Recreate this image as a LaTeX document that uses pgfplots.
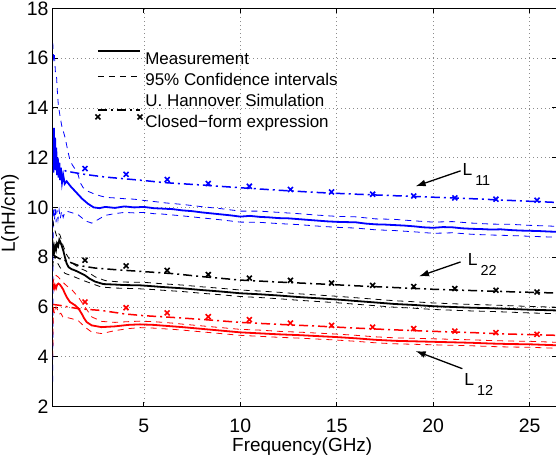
\documentclass[border=0pt]{standalone}
\usepackage{pgfplots}
\pgfplotsset{compat=1.18}
\usepackage{fontspec}
\setmainfont{Liberation Sans}
\usetikzlibrary{arrows.meta}
\definecolor{mblue}{RGB}{0,0,255}
\definecolor{mred}{RGB}{255,0,0}
\tikzset{
  meas/.style={line width=1.8bp},
  ci/.style={line width=0.8bp, dash pattern=on 6bp off 5bp},
  sim/.style={line width=1.5bp, dash pattern=on 9bp off 4bp on 2bp off 4bp},
  cf/.style={only marks, mark=x, mark size=3.5bp, mark options={line width=1.6bp, solid}},
}
\pgfplotsset{
  lineleg/.style={legend image code/.code={\draw[##1, overlay] (0bp,#1) -- (42bp,#1); \path (0bp,0bp) (46.5bp,0bp);}},
  markleg/.style={legend image code/.code={\draw[##1, overlay] plot coordinates {(0bp,#1) (42bp,#1)}; \path (0bp,0bp) (46.5bp,0bp);}},
}
\begin{document}
\begin{tikzpicture}
\useasboundingbox (-52.7bp,-60bp) rectangle (502.6bp,406bp);
\begin{axis}[
  at={(0,0)}, anchor=south west,
  scale only axis, width=503.3bp, height=397.7bp,
  xmin=0.28, xmax=26.4, ymin=2, ymax=18,
  xtick={5,10,15,20,25}, ytick={2,4,...,18},
  tick align=inside, tick pos=both,
  major tick length=5bp,
  axis line style={line width=0.9bp},
  every tick/.style={black, line width=0.8bp},
  grid=major,
  major grid style={line width=0.6bp, color=black!45, dash pattern=on 1bp off 3bp},
  /pgf/number format/assume math mode=true,
  tick label style={font=\fontsize{19.5}{19.5}\selectfont},
  xticklabel style={anchor=base, inner sep=0pt, yshift=-25.7bp},
  yticklabel style={anchor=east, inner sep=0pt, xshift=-4bp},
  xlabel={Frequency(GHz)},
  ylabel={L(nH/cm)},
  label style={font=\fontsize{19}{19}\selectfont},
  xlabel style={at={(axis description cs:0.495,-0.1124)}, anchor=base, inner sep=0pt},
  ylabel style={at={(axis description cs:-0.0848,0.4845)}, anchor=center, inner sep=0pt},
  legend style={draw=none, fill=none, at={(rel axis cs:0.0874,0.8884)}, anchor=north west,
    inner sep=0pt, row sep=4.9bp, font=\fontsize{17}{17}\selectfont,
    nodes={inner sep=0bp, text height=12bp, text depth=4bp}},
  legend cell align=left,
]
\addlegendimage{black, meas, lineleg=10.2bp}
\addlegendentry{Measurement}
\addlegendimage{black, ci, lineleg=5.8bp}
\addlegendentry{95\% Confidence intervals}
\addlegendimage{black, sim, lineleg=-7.4bp}
\addlegendentry{U. Hannover Simulation}
\addlegendimage{black, cf, markleg=6.8bp}
\addlegendentry{Closed−form expression}

% ---------- L11 (blue) ----------
\addplot[mblue, ci, forget plot] coordinates {(0.28,16.6)(0.32,16.0)(0.36,16.2)(0.42,15.4)(0.48,15.2)(0.53,14.5)(0.57,14.1)(0.65,13.7)(0.74,13.3)(0.83,13.05)(0.92,12.8)(1.0,12.5)(1.08,12.2)(1.17,11.9)(1.3,11.7)(1.43,11.55)(1.6,11.3)(1.7,11.0)(1.85,10.8)(2.1,10.65)(2.4,10.55)(2.8,10.45)(3.1,10.4)(3.5,10.38)(4,10.35)(4.5,10.33)(5,10.28)(5.5,10.24)(6,10.19)(7,10.12)(8,10.03)(9,9.95)(10,9.85)(11,9.85)(12,9.8)(13,9.75)(14,9.69)(15,9.64)(16,9.62)(17,9.54)(18,9.52)(19,9.46)(20,9.41)(21,9.43)(22,9.37)(23,9.33)(24,9.32)(25,9.28)(26.4,9.24)};
\addplot[mblue, ci, forget plot] coordinates {(0.28,3.0)(0.30,9.6)(0.33,10.0)(0.37,9.5)(0.41,9.95)(0.45,9.4)(0.50,9.9)(0.55,9.5)(0.61,9.9)(0.67,9.55)(0.74,9.85)(0.82,9.6)(0.9,9.8)(1.0,9.85)(1.3,9.78)(1.6,9.7)(2.0,9.45)(2.3,9.37)(2.6,9.5)(3.0,9.68)(3.5,9.75)(4,9.8)(4.5,9.78)(5,9.8)(5.5,9.75)(6,9.73)(7,9.66)(8,9.58)(9,9.5)(10,9.41)(11,9.4)(12,9.35)(13,9.31)(14,9.25)(15,9.2)(16,9.17)(17,9.1)(18,9.07)(19,9.02)(20,8.96)(21,8.98)(22,8.92)(23,8.89)(24,8.87)(25,8.84)(26.4,8.8)};
\addplot[mblue, meas, forget plot] coordinates {(0.28,12.9)(0.31,11.4)(0.34,13.2)(0.37,11.8)(0.40,12.8)(0.43,11.5)(0.46,12.4)(0.50,11.3)(0.54,12.0)(0.58,11.2)(0.62,11.8)(0.66,11.1)(0.70,11.6)(0.76,11.0)(0.82,11.3)(0.90,10.95)(1.0,11.05)(1.2,10.85)(1.5,10.6)(1.8,10.35)(2.1,10.15)(2.4,10.0)(2.7,9.97)(3.0,10.02)(3.5,9.98)(4.0,10.04)(4.5,10.0)(5.0,10.02)(5.5,9.97)(6,9.95)(6.5,9.93)(7,9.88)(7.5,9.85)(8,9.8)(8.5,9.76)(9,9.72)(9.5,9.68)(10,9.63)(10.5,9.66)(11,9.62)(11.5,9.6)(12,9.57)(12.5,9.56)(13,9.53)(13.5,9.5)(14,9.47)(14.5,9.44)(15,9.42)(15.5,9.41)(16,9.40)(16.5,9.35)(17,9.32)(17.5,9.31)(18,9.29)(18.5,9.27)(19,9.24)(19.5,9.2)(20,9.18)(20.5,9.21)(21,9.2)(21.5,9.16)(22,9.14)(22.5,9.13)(23,9.11)(23.5,9.12)(24,9.09)(24.5,9.07)(25,9.06)(25.5,9.05)(26,9.03)(26.4,9.02)};
\addplot[mblue, sim, forget plot] coordinates {(0.28,11.7)(0.5,11.6)(1,11.45)(2,11.32)(3,11.22)(4,11.15)(5,11.08)(6,11.0)(8,10.9)(10,10.79)(12,10.69)(14,10.6)(16,10.53)(18,10.47)(20,10.41)(22,10.35)(24,10.28)(26.4,10.2)};
\addplot[mblue, cf, forget plot] coordinates {(1.95,11.56)(4.08,11.33)(6.21,11.12)(8.34,10.96)(10.47,10.85)(12.60,10.72)(14.73,10.62)(16.86,10.53)(18.99,10.46)(21.12,10.38)(23.25,10.33)(25.38,10.29)};

% ---------- L22 (black) ----------
\addplot[black, ci, forget plot] coordinates {(0.28,9.5)(0.32,9.3)(0.36,9.2)(0.42,9.0)(0.5,8.8)(0.58,8.95)(0.65,8.9)(0.73,8.7)(0.8,8.5)(0.9,8.3)(1.0,8.1)(1.2,7.85)(1.4,7.7)(1.7,7.55)(2.0,7.45)(2.5,7.2)(3,7.06)(3.5,7.02)(4,7.0)(5,6.99)(6,6.93)(7,6.88)(8,6.81)(9,6.75)(10,6.68)(11,6.64)(12,6.59)(13,6.53)(14,6.48)(15,6.43)(16,6.37)(17,6.31)(18,6.25)(19,6.21)(20,6.16)(21,6.13)(22,6.1)(23,6.08)(24,6.05)(25,6.02)(26.4,5.99)};
\addplot[black, ci, forget plot] coordinates {(0.28,7.6)(0.33,8.1)(0.4,7.95)(0.5,7.8)(0.58,7.7)(0.65,7.6)(0.75,7.5)(0.91,7.35)(1.2,7.27)(1.43,7.2)(1.8,7.08)(2.3,6.94)(2.8,6.8)(3.5,6.76)(4.5,6.74)(5.5,6.7)(6,6.67)(7,6.62)(8,6.55)(9,6.49)(10,6.42)(11,6.38)(12,6.33)(13,6.27)(14,6.22)(15,6.17)(16,6.11)(17,6.05)(18,5.99)(19,5.95)(20,5.9)(21,5.87)(22,5.84)(23,5.82)(24,5.79)(25,5.76)(26.4,5.73)};
\addplot[black, meas, forget plot] coordinates {(0.28,8.1)(0.31,8.4)(0.35,8.2)(0.40,8.45)(0.45,8.3)(0.50,8.55)(0.56,8.45)(0.62,8.7)(0.68,8.6)(0.75,8.45)(0.83,8.25)(0.91,8.0)(1.0,7.75)(1.1,7.6)(1.25,7.52)(1.43,7.47)(1.7,7.37)(1.95,7.27)(2.2,7.13)(2.47,7.02)(2.9,6.92)(3.5,6.9)(4,6.88)(4.8,6.87)(5.5,6.83)(6,6.8)(7,6.75)(8,6.68)(9,6.62)(10,6.55)(11,6.51)(12,6.46)(13,6.4)(14,6.35)(15,6.3)(16,6.24)(17,6.18)(18,6.12)(19,6.08)(20,6.03)(21,6.0)(22,5.97)(23,5.95)(24,5.92)(25,5.89)(26.4,5.86)};
\addplot[black, sim, forget plot] coordinates {(0.28,8.1)(0.6,7.95)(0.91,7.87)(1.6,7.67)(2.5,7.56)(3.5,7.5)(5,7.42)(6.5,7.34)(8,7.22)(10,7.08)(12,7.0)(14,6.93)(16,6.85)(18,6.78)(20,6.71)(22,6.66)(24,6.61)(26.4,6.56)};
\addplot[black, cf, forget plot] coordinates {(1.95,7.88)(4.08,7.65)(6.21,7.47)(8.34,7.30)(10.47,7.16)(12.60,7.07)(14.73,6.96)(16.86,6.87)(18.99,6.82)(21.12,6.74)(23.25,6.67)(25.38,6.60)};

% ---------- L12 (red) ----------
\addplot[mred, ci, forget plot] coordinates {(0.28,6.9)(0.33,7.1)(0.4,7.3)(0.48,7.25)(0.57,7.2)(0.68,7.1)(0.8,7.0)(1.0,6.85)(1.26,6.7)(1.6,6.4)(1.95,6.0)(2.3,5.6)(2.82,5.42)(3.5,5.38)(4.2,5.41)(4.8,5.43)(5.5,5.41)(6.5,5.35)(7,5.31)(8,5.24)(9,5.17)(10,5.1)(11,5.07)(12,5.02)(13,4.99)(14,4.95)(15,4.91)(16,4.86)(17,4.8)(18,4.76)(19,4.74)(20,4.72)(21,4.7)(22,4.68)(23,4.65)(24,4.63)(25,4.62)(26.4,4.58)};
\addplot[mred, ci, forget plot] coordinates {(0.28,4.0)(0.31,6.1)(0.35,5.8)(0.39,5.73)(0.45,6.0)(0.5,5.95)(0.6,5.7)(0.7,5.75)(0.8,5.6)(1.0,5.58)(1.26,5.53)(1.6,5.45)(1.95,5.19)(2.3,4.99)(2.82,4.93)(3.5,5.05)(4.2,5.13)(4.8,5.17)(5.5,5.15)(6.5,5.1)(7,5.07)(8,5.0)(9,4.93)(10,4.86)(11,4.82)(12,4.78)(13,4.75)(14,4.71)(15,4.67)(16,4.62)(17,4.56)(18,4.52)(19,4.5)(20,4.48)(21,4.46)(22,4.44)(23,4.41)(24,4.39)(25,4.38)(26.4,4.34)};
\addplot[mred, meas, forget plot] coordinates {(0.28,6.7)(0.31,6.85)(0.35,6.75)(0.39,6.87)(0.45,6.75)(0.51,6.9)(0.57,6.94)(0.65,6.9)(0.74,6.8)(0.82,6.7)(0.91,6.54)(1.0,6.4)(1.17,6.2)(1.43,6.07)(1.6,5.95)(1.78,5.73)(1.9,5.55)(2.04,5.39)(2.3,5.26)(2.8,5.19)(3.5,5.22)(4.2,5.28)(4.8,5.3)(5.5,5.28)(6.5,5.22)(7,5.19)(8,5.12)(9,5.05)(10,4.98)(11,4.94)(12,4.9)(13,4.87)(14,4.83)(15,4.79)(16,4.74)(17,4.68)(18,4.64)(19,4.62)(20,4.6)(21,4.58)(22,4.56)(23,4.53)(24,4.51)(25,4.5)(26.4,4.46)};
\addplot[mred, sim, forget plot] coordinates {(0.28,6.1)(0.6,6.07)(1.6,5.93)(2.8,5.86)(4,5.72)(5,5.65)(6.5,5.58)(8,5.5)(10,5.38)(12,5.3)(14,5.23)(16,5.15)(18,5.08)(20,5.02)(22,4.97)(24,4.91)(26.4,4.86)};
\addplot[mred, cf, forget plot] coordinates {(1.95,6.20)(4.08,5.97)(6.21,5.76)(8.34,5.61)(10.47,5.49)(12.60,5.35)(14.73,5.26)(16.86,5.19)(18.99,5.13)(21.12,5.03)(23.25,4.97)(25.38,4.90)};

% ---------- annotations ----------
\draw[black, line width=1.3bp, -{Latex[length=10bp,width=7bp]}] (axis cs:21.42,11.47) -- (axis cs:19.09,10.85);
\draw[black, line width=1.3bp, -{Latex[length=10bp,width=7bp]}] (axis cs:21.42,7.81) -- (axis cs:19.26,7.23);
\draw[black, line width=1.3bp, -{Latex[length=10bp,width=7bp]}] (axis cs:21.51,3.52) -- (axis cs:19.09,4.23);
\node[anchor=base west, inner sep=0pt, font=\fontsize{17.5}{17.5}\selectfont] at (axis cs:21.51,11.29) {L\kern3bp\raisebox{-10bp}{\fontsize{14.5}{14.5}\selectfont 11}};
\node[anchor=base west, inner sep=0pt, font=\fontsize{17.5}{17.5}\selectfont] at (axis cs:21.79,7.67) {L\kern3bp\raisebox{-10bp}{\fontsize{14.5}{14.5}\selectfont 22}};
\node[anchor=base west, inner sep=0pt, font=\fontsize{17.5}{17.5}\selectfont] at (axis cs:21.61,2.85) {L\kern3bp\raisebox{-10bp}{\fontsize{14.5}{14.5}\selectfont 12}};
\end{axis}
\end{tikzpicture}
\end{document}
